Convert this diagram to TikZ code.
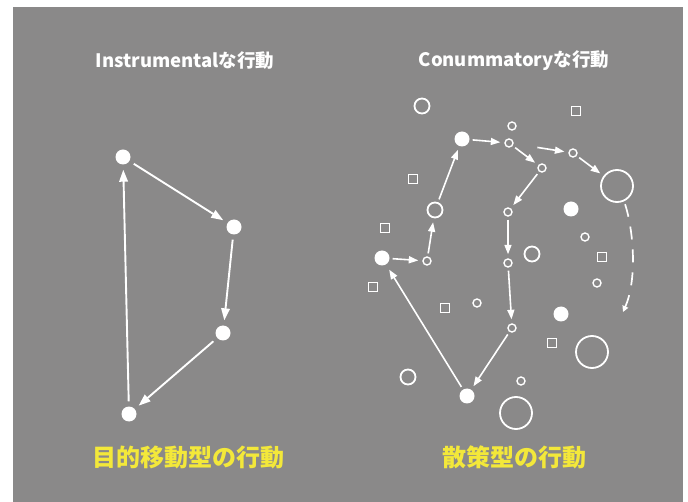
\documentclass[tikz,border=0pt]{standalone}
\usepackage{fontspec}
\newfontfamily\cjk{Noto Sans CJK JP}
\usetikzlibrary{arrows.meta}
\definecolor{bg}{RGB}{138,137,137}
\definecolor{ylw}{RGB}{243,232,58}
\begin{document}
\begin{tikzpicture}[x=1pt,y=-1pt,
  fdot/.style={circle,fill=white,draw=none,inner sep=0pt,minimum size=15pt},
  odot/.style={circle,draw=white,line width=1.8pt,inner sep=0pt,minimum size=15pt},
  bdot/.style={circle,draw=white,line width=1.8pt,inner sep=0pt,minimum size=32pt},
  sdot/.style={circle,draw=white,line width=1.4pt,inner sep=0pt,minimum size=8pt},
  sq/.style={rectangle,draw=white,line width=1.3pt,inner sep=0pt,minimum size=9.5pt},
  bigarr/.style={draw=white,line width=1.9pt,-{Triangle[length=12pt,width=8.5pt]},shorten <=5pt,shorten >=5pt},
  arr/.style={draw=white,line width=1.6pt,-{Triangle[length=9.5pt,width=7pt]},shorten <=3pt,shorten >=4pt},
  title/.style={text=white,font=\cjk\bfseries\fontsize{18.5}{20}\selectfont,inner sep=0pt},
  caption/.style={text=ylw,font=\cjk\bfseries\fontsize{24}{28}\selectfont,inner sep=0pt}]
\useasboundingbox (0,0) rectangle (688,502);
\fill[white] (0,0) rectangle (688,502);
\fill[bg] (13,7) rectangle (683,502);

% titles
\node[title] (t1) at (185,61) {Instrumentalな行動};
\node[title] (t2) at (514,61) {Conummatoryな行動};
\node[caption] (c1) at (188.5,457) {目的移動型の行動};
\node[caption] (c2) at (514.5,457) {散策型の行動};

% left diagram
\node[fdot] (a) at (123,157) {};
\node[fdot] (b) at (234,227) {};
\node[fdot] (c) at (223,333) {};
\node[fdot] (d) at (129,414) {};
\draw[bigarr] (a) -- (b);
\draw[bigarr] (b) -- (c);
\draw[bigarr] (c) -- (d);
\draw[bigarr] (d) -- (a);

% right diagram: filled
\node[fdot] (p1) at (462,139) {};
\node[fdot] (f2) at (571,209) {};
\node[fdot] (p0) at (382,258) {};
\node[fdot] (f4) at (561,314) {};
\node[fdot] (p10) at (467,396) {};
% open medium
\node[odot] (o1) at (422,106) {};
\node[odot] (om) at (435,210) {};
\node[odot] (o3) at (532,254) {};
\node[odot] (o4) at (408,377) {};
% big
\node[bdot] (p5) at (617,186) {};
\node[bdot] (b2) at (592,352) {};
\node[bdot] (b3) at (516,413) {};
% small
\node[sdot] (s1) at (512,126) {};
\node[sdot] (p2) at (509,143) {};
\node[sdot] (p3) at (542,168) {};
\node[sdot] (p4) at (573,153) {};
\node[sdot] (p7) at (508,212) {};
\node[sdot] (s6) at (585,237) {};
\node[sdot] (q) at (427,261) {};
\node[sdot] (p8) at (508,263) {};
\node[sdot] (s9) at (597,283) {};
\node[sdot] (s10) at (477,303) {};
\node[sdot] (p9) at (512,328) {};
\node[sdot] (s12) at (521,381) {};
% squares
\node[sq] (q1) at (576,111) {};
\node[sq] (q2) at (413,179) {};
\node[sq] (q3) at (385,228) {};
\node[sq] (q4) at (373,287) {};
\node[sq] (q5) at (445,308) {};
\node[sq] (q6) at (602,257) {};
\node[sq] (q7) at (552,343) {};

% right arrows
\draw[arr] (p0) -- (q);
\draw[arr] (q) -- (om);
\draw[arr] (om) -- (p1);
\draw[arr] (p1) -- (p2);
\draw[arr] (p2) -- (p3);
\draw[arr,shorten <=24pt] (p2) -- (p4);
\draw[arr] (p4) -- (p5);
\draw[arr] (p3) -- (p7);
\draw[arr] (p7) -- (p8);
\draw[arr] (p8) -- (p9);
\draw[arr] (p9) -- (p10);
\draw[arr,shorten >=6pt] (p10) -- (p0);

% dashed path
\coordinate (dend) at (623,312);
\draw[draw=white,line width=1.7pt,dash pattern=on 13pt off 10pt,-{Triangle[length=6pt,width=6pt]},shorten <=3pt]
  (p5.-65) .. controls (634,232) and (637,280) .. (dend);
\end{tikzpicture}
\end{document}
